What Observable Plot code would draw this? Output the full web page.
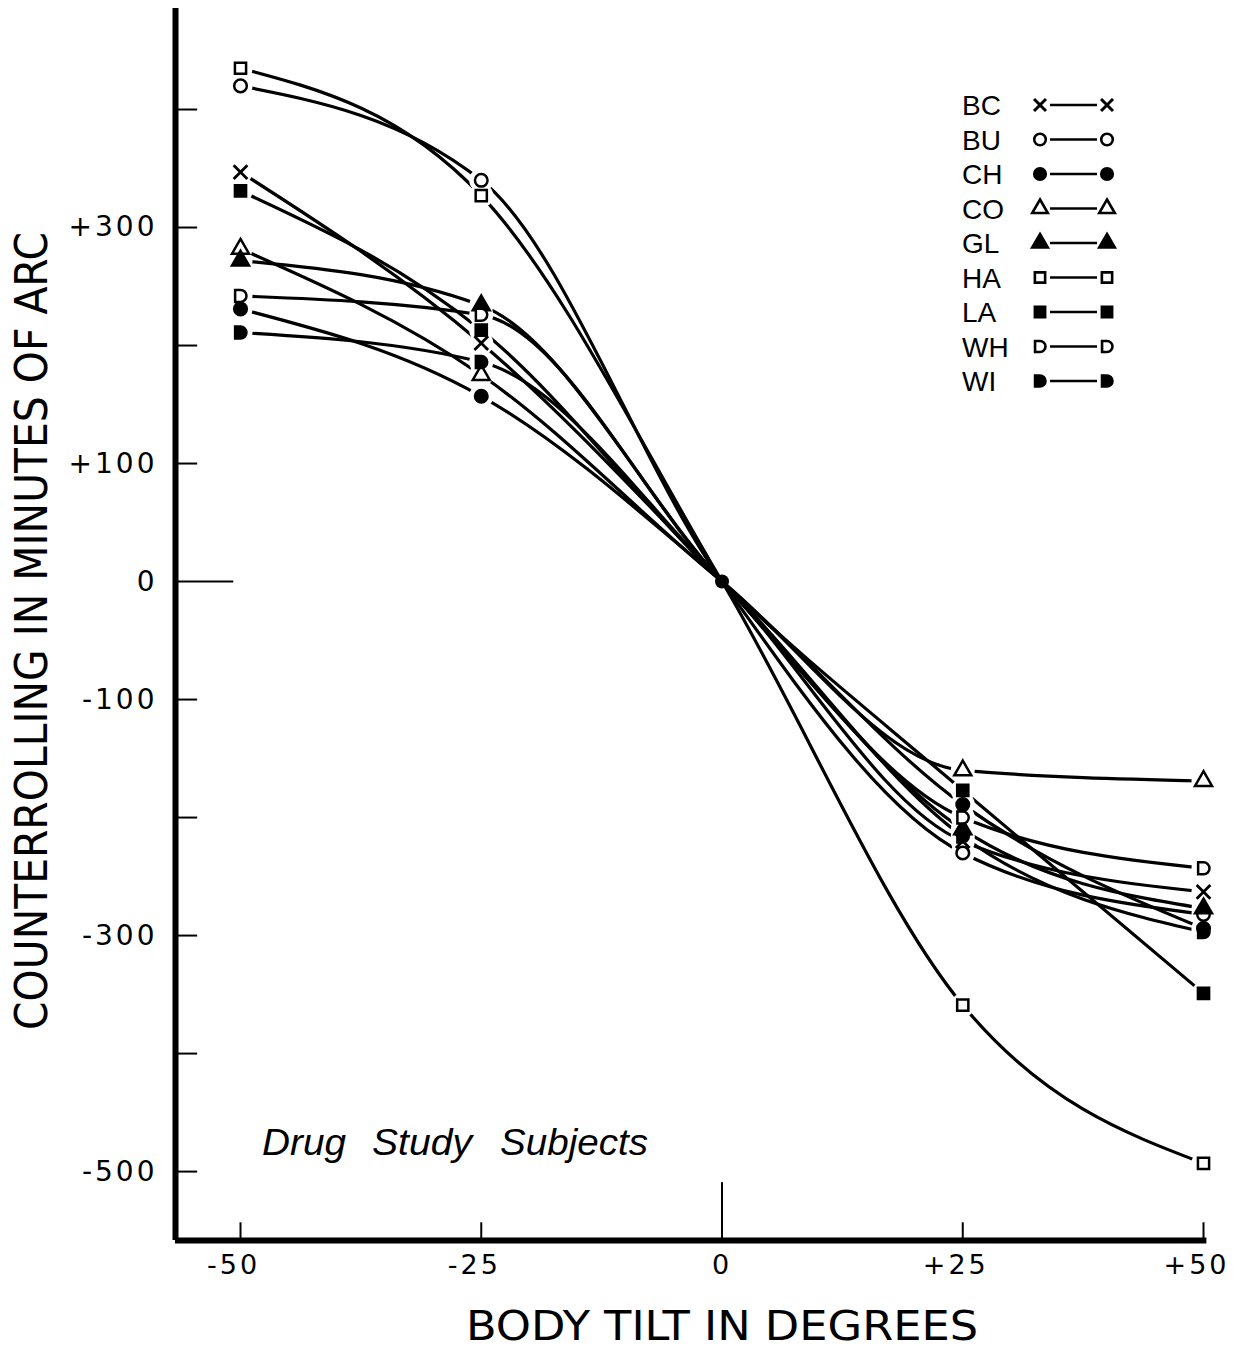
<!DOCTYPE html>
<html><head><meta charset="utf-8">
<script src="https://cdn.jsdelivr.net/npm/d3@7"></script>
<script src="https://cdn.jsdelivr.net/npm/@observablehq/plot@0.6"></script>
<style>
body{margin:0;background:#fff}
#chart{position:relative;width:1235px;height:1348px}
</style>
</head><body><div id="chart"></div>
<script>
// ---- data ----
const tilt = [-50, -25, 0, 25, 50];
const subjects = ["BC", "BU", "CH", "CO", "GL", "HA", "LA", "WH", "WI"];
const BC = [347, 202, 0, -220, -263];
const BU = [420, 340, 0, -230, -282];
const CH = [231, 157, 0, -189, -294];
const CO = [282, 175, 0, -160, -169];
const GL = [272, 234, 0, -210, -277];
const HA = [435, 327, 0, -359, -493];
const LA = [331, 213, 0, -177, -349];
const WH = [242, 226, 0, -200, -243];
const WI = [211, 186, 0, -216, -297];
const seriesValues = [BC, BU, CH, CO, GL, HA, LA, WH, WI];
const symbolKinds = ["times", "circle", "circle", "triangle", "triangle", "square", "square", "D", "D"];
const symbolFilled = [false, false, true, false, true, false, true, false, true];
const yTickValues = [400, 300, 200, 100, 0, -100, -200, -300, -400, -500];
const yTickLabels = [300, 100, 0, -100, -300, -500];
const xTickValues = [-50, -25, 0, 25, 50];
const xTitle = "BODY TILT IN DEGREES";
const yTitle = "COUNTERROLLING IN MINUTES OF ARC";
const noteWords = ["Drug", "Study", "Subjects"];

// ---- build table ----
const table = [];
subjects.forEach((s, i) => tilt.forEach((t, j) => table.push({subject: s, idx: i, x: t, y: seriesValues[i][j]})));

// custom "D" symbol (flat left, round right)
const symD = {
  draw(ctx, size) {
    const r = Math.sqrt(size / Math.PI) * 0.95;
    ctx.moveTo(-r * 0.9, -r);
    ctx.lineTo(0, -r);
    ctx.arc(0, 0, r, -Math.PI / 2, Math.PI / 2);
    ctx.lineTo(-r * 0.9, r);
    ctx.closePath();
  }
};
const plotSym = k => k === "D" ? symD : k;
const d3Sym = k => ({times: d3.symbolTimes, circle: d3.symbolCircle, triangle: d3.symbolTriangle, square: d3.symbolSquare, D: symD})[k];

const X0 = -56.75, X1 = 50.31, Y0 = -558.4, Y1 = 485.6;
const fmt = d => d > 0 ? "+" + d : (d < 0 ? "-" + Math.abs(d) : "0");

const markerMarks = subjects.map((s, i) => Plot.dot(table.filter(d => d.idx === i && d.x !== 0), {
  x: "x", y: "y", r: 6.3,
  symbol: plotSym(symbolKinds[i]),
  fill: symbolKinds[i] === "times" ? "none" : (symbolFilled[i] ? "black" : "white"),
  stroke: "black", strokeWidth: symbolKinds[i] === "times" ? 2.8 : 2.5
}));

const chart = Plot.plot({
  width: 1235, height: 1348,
  marginLeft: 175, marginRight: 29, marginTop: 8, marginBottom: 108,
  x: {domain: [X0, X1]},
  y: {domain: [Y0, Y1]},
  style: {fontFamily: "DejaVu Sans", color: "black", background: "white"},
  marks: [
    // tick marks
    Plot.ruleY(yTickValues.filter(d => d !== 0), {x1: X0, x2: X0 + 2.3, strokeWidth: 2}),
    Plot.ruleY([0], {x1: X0, x2: -50.7, strokeWidth: 2}),
    Plot.ruleX(xTickValues.filter(d => d !== 0), {y1: Y0, y2: Y0 + 15, strokeWidth: 2}),
    Plot.ruleX([0], {y1: Y0, y2: Y0 + 49, strokeWidth: 2}),
    // curves
    Plot.line(table, {x: "x", y: "y", z: "subject", curve: "monotone-x", stroke: "black", strokeWidth: 3.2}),
    // white gaps around markers
    Plot.dot(table.filter(d => d.x !== 0), {x: "x", y: "y", r: 12, fill: "white"}),
    ...markerMarks,
    Plot.dot([{x: 0, y: 0}], {x: "x", y: "y", r: 7, fill: "black"}),
    // axis lines
    Plot.ruleX([X0], {y1: Y0, y2: Y1, strokeWidth: 6}),
    Plot.ruleY([Y0], {x1: X0, x2: 50.35, strokeWidth: 6}),
    // axis labels
    Plot.axisX(xTickValues, {tickSize: 0, tickPadding: 14, fontSize: 27, tickFormat: fmt, label: null}),
    Plot.axisY(yTickLabels, {tickSize: 0, tickPadding: 18, fontSize: 28, tickFormat: fmt, label: null})
  ]
});
document.getElementById("chart").appendChild(chart);

const svg = d3.select(chart);
svg.selectAll("[aria-label='y-axis tick label'] text").style("letter-spacing", "3px");
svg.selectAll("[aria-label='x-axis tick label'] text").style("letter-spacing", "3px")
  .each(function() { if (this.textContent !== "0") d3.select(this).attr("dx", -7); });

// titles
svg.append("text").attr("x", 722).attr("y", 1340).attr("text-anchor", "middle")
  .attr("font-family", "Liberation Sans Narrow, DejaVu Sans Condensed, sans-serif").attr("font-size", 40)
  .attr("textLength", 512).attr("lengthAdjust", "spacingAndGlyphs").text(xTitle);
svg.append("text").attr("transform", "translate(47,631) rotate(-90)").attr("text-anchor", "middle")
  .attr("font-family", "Liberation Sans Narrow, DejaVu Sans Condensed, sans-serif").attr("font-size", 44)
  .attr("textLength", 798).attr("lengthAdjust", "spacingAndGlyphs").text(yTitle);
const noteText = svg.append("text").attr("y", 1155).attr("text-anchor", "start")
  .attr("font-family", "Liberation Sans, sans-serif").attr("font-style", "italic").attr("font-size", 37);
const noteX = [262, 372, 500], noteW = [84, 100, 148];
noteWords.forEach((w, i) => noteText.append("tspan").attr("x", noteX[i])
  .attr("textLength", noteW[i]).attr("lengthAdjust", "spacingAndGlyphs").text(w));

// legend
const lg = svg.append("g");
subjects.forEach((s, i) => {
  const yy = 105 + i * 34.5;
  lg.append("text").attr("x", 962).attr("y", yy).attr("dy", "0.36em").attr("text-anchor", "start")
    .attr("font-family", "Liberation Sans, sans-serif").attr("font-size", 28).text(s);
  const k = symbolKinds[i];
  const path = d3.symbol(d3Sym(k), k === "times" ? 95 : 105)();
  [1040, 1107].forEach(cx => {
    lg.append("path").attr("d", path).attr("transform", `translate(${cx},${yy})`)
      .attr("fill", k === "times" ? "none" : (symbolFilled[i] ? "black" : "white"))
      .attr("stroke", "black").attr("stroke-width", k === "times" ? 3 : 2.6);
  });
  lg.append("line").attr("x1", 1050).attr("x2", 1097).attr("y1", yy).attr("y2", yy)
    .attr("stroke", "black").attr("stroke-width", 2.5);
});
</script>
</body></html>
